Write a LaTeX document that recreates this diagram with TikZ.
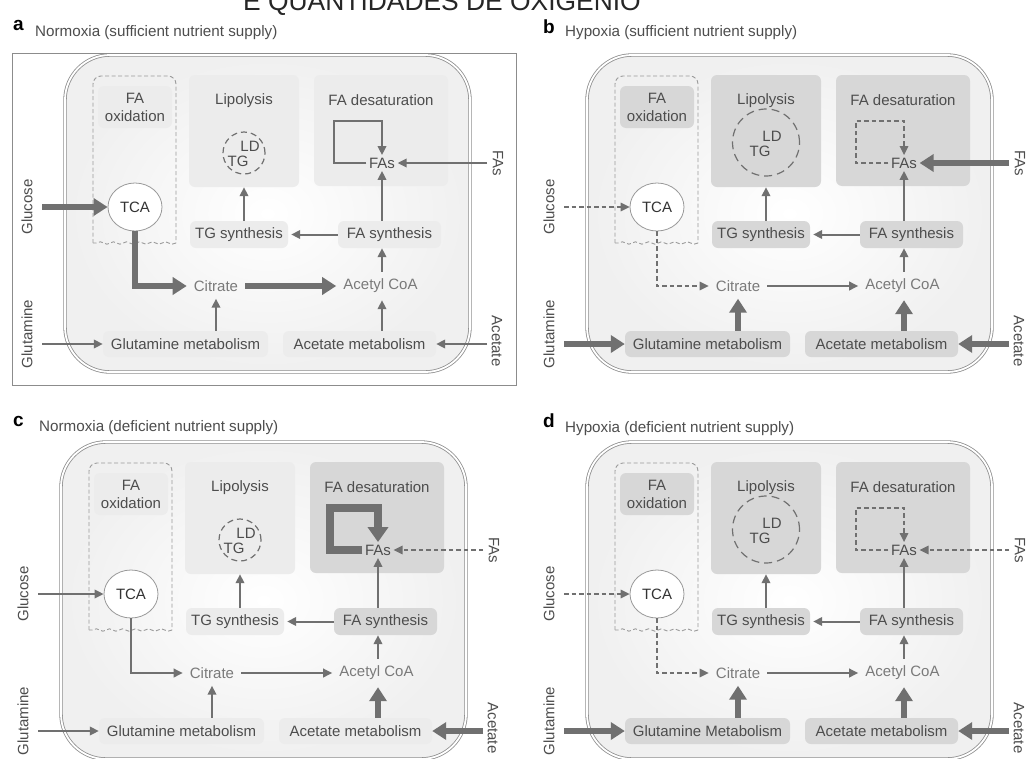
\documentclass[tikz,border=0pt]{standalone}
\usepackage{fontspec}
\setmainfont{Liberation Sans}
\usetikzlibrary{arrows.meta,shapes.geometric,decorations.pathmorphing}
\definecolor{ln}{HTML}{707070}
\definecolor{txt}{HTML}{4D4D4D}
\definecolor{lt}{HTML}{7A7A7A}
\definecolor{boxlight}{HTML}{ECECEC}
\definecolor{boxdark}{HTML}{D7D7D7}
\definecolor{celledge}{HTML}{8F8F8F}
\definecolor{dcol}{HTML}{9A9A9A}
\tikzset{
  base/.style={font=\fontsize{15}{17}\selectfont, text=txt},
  txtnode/.style={base, inner sep=0pt},
  mtxt/.style={base, text=lt, inner sep=7pt},
  pbox/.style={base, rounded corners=6pt, minimum height=27pt, inner sep=0pt},
  cellnode/.style={draw=celledge, double=white, double distance=1.8pt, line width=0.8pt, rounded corners=45pt, minimum width=405pt, minimum height=317pt, inner color=white, outer color=black!6},
  oxdash/.style={draw=dcol, line width=0.9pt, dash pattern=on 4pt off 2.5pt},
  ldbase/.style={circle, draw=ln, line width=1.2pt, dash pattern=on 6pt off 4pt, inner sep=0pt},
  tcanode/.style={ellipse, draw=black!40, line width=0.8pt, fill=white, minimum width=54pt, minimum height=48pt, font=\fontsize{15}{17}\selectfont, text=black!80, inner sep=0pt},
  thn/.style={draw=ln, line width=2pt, -{Triangle[length=9pt,width=8.5pt]}},
  thk/.style={draw=ln, line width=6pt, -{Triangle[length=14pt,width=17pt]}},
  dsh/.style={draw=ln, line width=1.6pt, dash pattern=on 4.5pt off 3pt, -{Triangle[length=9pt,width=8.5pt]}},
  xthk/.style={draw=ln, line width=7.5pt, -{Triangle[length=15pt,width=20pt]}},
  title/.style={anchor=base west, inner sep=0pt, font=\fontsize{15.2}{17}\selectfont, text=txt},
  letter/.style={anchor=base west, inner sep=0pt, font=\bfseries\fontsize{19}{21}\selectfont, text=black},
  aAcFa/.style={thn}, aFaTg/.style={thn}, aTgLip/.style={thn}, aFaFas/.style={thn},
  lightall/.style={fOx/.style={fill=boxlight}, fLip/.style={fill=boxlight}, fDes/.style={fill=boxlight},
    fTG/.style={fill=boxlight}, fFA/.style={fill=boxlight}, fGM/.style={fill=boxlight}, fAM/.style={fill=boxlight}},
  darkall/.style={fOx/.style={fill=boxdark}, fLip/.style={fill=boxdark}, fDes/.style={fill=boxdark},
    fTG/.style={fill=boxdark}, fFA/.style={fill=boxdark}, fGM/.style={fill=boxdark}, fAM/.style={fill=boxdark}},
  smallld/.style={ldc/.style={ldbase, minimum size=42pt}, ldpos/.style={}},
  bigld/.style={ldc/.style={ldbase, minimum size=67pt, yshift=10.5pt, dash pattern=on 8pt off 5pt}, ldpos/.style={yshift=10pt}},
  panelA/.style={lightall, smallld,
    aGlc/.style={thk}, aTcaCit/.style={thk}, aCitAc/.style={thk}, aGlnIn/.style={thn}, aGmCit/.style={thn},
    aAceIn/.style={thn}, aAmAc/.style={thn}, aFasIn/.style={thn}, aLoop/.style={thn}},
  panelB/.style={darkall, bigld,
    aGlc/.style={dsh}, aTcaCit/.style={dsh}, aCitAc/.style={thn}, aGlnIn/.style={thk}, aGmCit/.style={thk},
    aAceIn/.style={thk}, aAmAc/.style={thk}, aFasIn/.style={thk}, aLoop/.style={dsh}},
  panelC/.style={lightall, smallld, fDes/.style={fill=boxdark}, fFA/.style={fill=boxdark},
    aGlc/.style={thn}, aTcaCit/.style={thn}, aCitAc/.style={thn}, aGlnIn/.style={thn}, aGmCit/.style={thn},
    aAceIn/.style={thk}, aAmAc/.style={thk}, aFasIn/.style={dsh}, aLoop/.style={xthk}},
  panelD/.style={darkall, bigld,
    aGlc/.style={dsh}, aTcaCit/.style={dsh}, aCitAc/.style={thn}, aGlnIn/.style={thk}, aGmCit/.style={thk},
    aAceIn/.style={thk}, aAmAc/.style={thk}, aFasIn/.style={dsh}, aLoop/.style={dsh}},
}
\newcommand\cellbody[1]{%
  \node[cellnode] (cell) at (267.5,213.5) {};
  \draw[oxdash, rounded corners=8pt] (93,243) -- (93,76) -- (176,76) -- (176,243);
  \draw[oxdash, decorate, decoration={snake, amplitude=1.2pt, segment length=13pt}] (176,243) -- (93,243);
  \node[pbox, fOx, minimum width=74pt, minimum height=42pt, align=center, font=\fontsize{15}{18}\selectfont] (fox) at (135,107) {FA\\oxidation};
  \node[pbox, fLip, minimum width=110pt, minimum height=112pt] (lip) at (244,131) {};
  \node[txtnode] (liplab) at (244,101) {Lipolysis};
  \node[ldc] (ld) at (244,153) {};
  \node[txtnode, ldpos] (ldt) at (250,146) {LD};
  \node[txtnode, ldpos] (tgt) at (238,161) {TG};
  \node[pbox, fDes, minimum width=134pt, minimum height=111pt] (des) at (381,130.5) {};
  \node[txtnode] (deslab) at (381,100) {FA desaturation};
  \node[txtnode, inner sep=2.5pt] (fas) at (382,163) {FAs};
  \node[tcanode] (tca) at (135,207) {TCA};
  \node[pbox, fTG, minimum width=98pt] (tg) at (239,234.5) {TG synthesis};
  \node[pbox, fFA, minimum width=103pt] (fasyn) at (389.5,234.5) {FA synthesis};
  \node[mtxt] (cit) at (216,286) {Citrate};
  \node[mtxt] (accoa) at (380.5,286) {Acetyl CoA};
  \node[pbox, fGM, minimum width=165pt, minimum height=26pt] (gm) at (185.5,344) {#1};
  \node[pbox, fAM, minimum width=153pt, minimum height=26pt] (am) at (359.5,344) {Acetate metabolism};
  \node[txtnode, rotate=90] (glcl) at (27,207) {Glucose};
  \node[txtnode, rotate=90] (glnl) at (27,334) {Glutamine};
  \node[txtnode, rotate=-90] (acel) at (497,341) {Acetate};
  \node[txtnode, rotate=-90] (fasl) at (498,163) {FAs};
  \coordinate (glcs) at (42,207);
  \coordinate (glns) at (42,344);
  \coordinate (aces) at (487,344);
  \coordinate (fass) at (487,163);
  \coordinate (lpc) at (334,121);
  \draw[aGlc] (glcs) -- (tca.west);
  \draw[aTcaCit] (tca.south) |- (cit.west);
  \draw[aCitAc] (cit.east) -- (accoa.west);
  \draw[aGlnIn] (glns) -- (gm.west);
  \draw[aGmCit] (gm.north -| cit.south) -- (cit.south);
  \draw[aAceIn] (aces) -- (am.east);
  \draw[aAmAc] (am.north -| fas.south) -- (accoa.south -| fas.south);
  \draw[aAcFa] (accoa.north -| fas.south) -- (fasyn.south -| fas.south);
  \draw[aFaTg] (fasyn.west) -- ([xshift=3pt]tg.east);
  \draw[aTgLip] (tg.north -| lip.south) -- (lip.south);
  \draw[aFaFas] (fasyn.north -| fas.south) -- (fas.south);
  \draw[aFasIn] (fass) -- (fas.east);
  \draw[aLoop] (fas.west) -| (lpc) -| (fas.north);
}
\begin{document}
\begin{tikzpicture}[x=1pt,y=-1pt]
  \useasboundingbox (0,0) rectangle (1027,758);
  \fill[white] (0,0) rectangle (1027,758);
  \node[anchor=base west, inner sep=0pt, font=\fontsize{26.4}{28}\selectfont, text=black!85] (hdr) at (243,10.5) {E QUANTIDADES DE OXIGÊNIO};
  \node[letter] (la) at (13,30) {a};
  \node[title] (ta) at (35,36.5) {Normoxia (sufficient nutrient supply)};
  \node[letter] (lb) at (543,33) {b};
  \node[title] (tb) at (565,36) {Hypoxia (sufficient nutrient supply)};
  \node[letter] (lc) at (13,426) {c};
  \node[title] (tc) at (39,431.5) {Normoxia (deficient nutrient supply)};
  \node[letter] (ld) at (543,427) {d};
  \node[title] (td) at (565,432) {Hypoxia (deficient nutrient supply)};
  \draw[draw=black!45, line width=0.8pt] (12,53) rectangle (516,385);
  \begin{scope}[panelA, name prefix=a-]
    \cellbody{Glutamine metabolism}
  \end{scope}
  \begin{scope}[shift={(522,0)}, panelB, name prefix=b-]
    \cellbody{Glutamine metabolism}
  \end{scope}
  \begin{scope}[shift={(-4,387)}, panelC, name prefix=c-]
    \cellbody{Glutamine metabolism}
  \end{scope}
  \begin{scope}[shift={(522,387)}, panelD, name prefix=d-]
    \cellbody{Glutamine Metabolism}
  \end{scope}
\end{tikzpicture}
\end{document}
